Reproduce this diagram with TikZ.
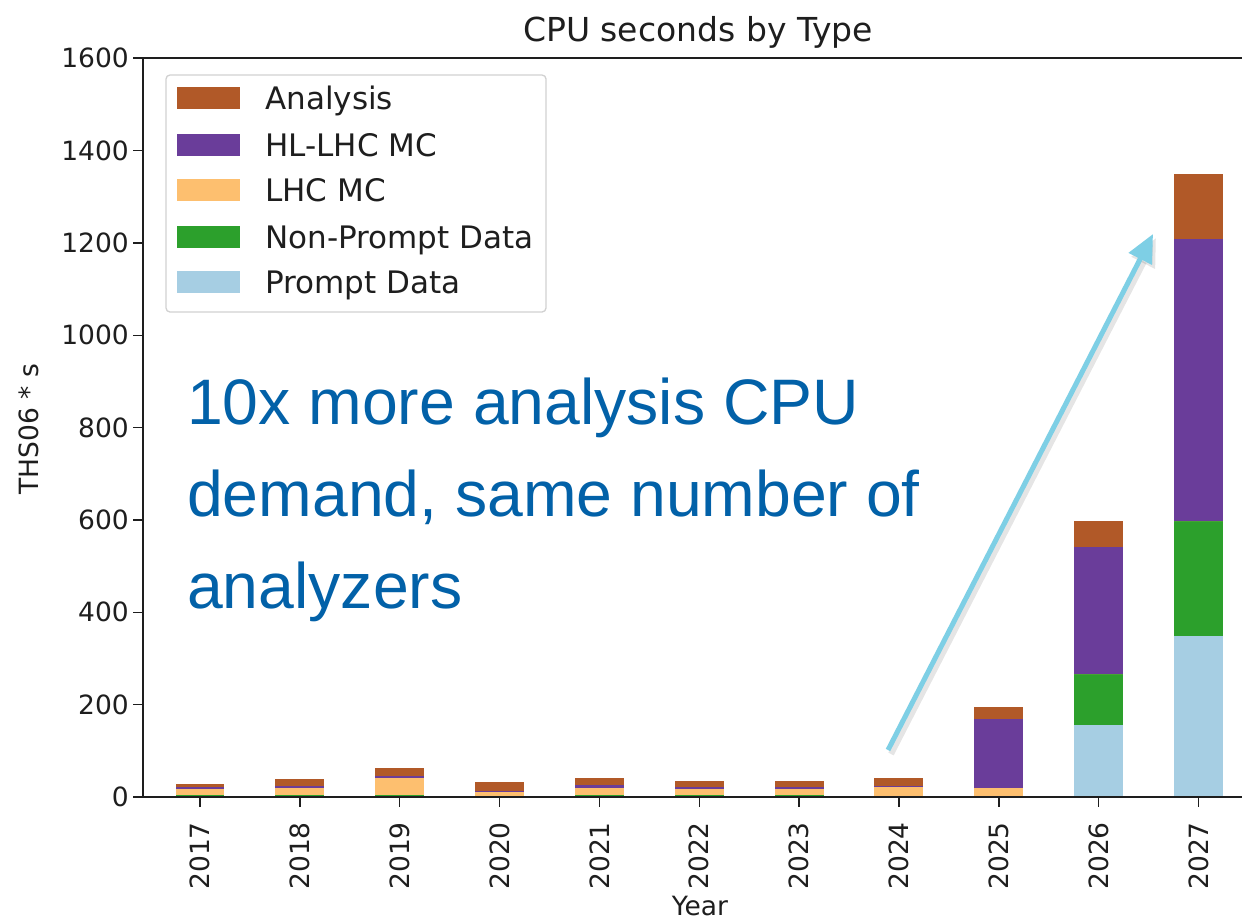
\documentclass[tikz,border=0pt]{standalone}
\usepackage{fontspec}
\setmainfont{DejaVu Sans}
\newfontfamily\annfont{Liberation Sans}
\usetikzlibrary{arrows.meta}
\definecolor{cAn}{HTML}{B15928}
\definecolor{cHL}{HTML}{6A3D9A}
\definecolor{cLHC}{HTML}{FDBF6F}
\definecolor{cNP}{HTML}{2CA02C}
\definecolor{cPD}{HTML}{A6CEE3}
\definecolor{annblue}{RGB}{2,97,168}
\definecolor{arrblue}{RGB}{126,207,229}
\definecolor{axcol}{RGB}{30,30,30}
\newcommand\stackbar[6]{%
  \begin{scope}[shift={(200,797)}, x=99.85pt, y=0.46175pt]
    \pgfmathsetmacro\ya{#2}
    \pgfmathsetmacro\yb{#2+#3}
    \pgfmathsetmacro\yc{#2+#3+#4}
    \pgfmathsetmacro\yd{#2+#3+#4+#5}
    \pgfmathsetmacro\ye{#2+#3+#4+#5+#6}
    \fill[cPD]  (#1-0.245,0)   rectangle (#1+0.245,\ya);
    \fill[cNP]  (#1-0.245,\ya) rectangle (#1+0.245,\yb);
    \fill[cLHC] (#1-0.245,\yb) rectangle (#1+0.245,\yc);
    \fill[cHL]  (#1-0.245,\yc) rectangle (#1+0.245,\yd);
    \fill[cAn]  (#1-0.245,\yd) rectangle (#1+0.245,\ye);
  \end{scope}}
\begin{document}
\begin{tikzpicture}[x=1pt,y=-1pt,
  axisline/.style={draw=axcol, line width=1.8pt},
  tickline/.style={draw=axcol, line width=1.5pt},
  ticklabel/.style={font=\fontsize{26.5}{30}\selectfont, text=axcol, inner sep=0pt},
  titlelabel/.style={font=\fontsize{33}{38}\selectfont, text=axcol, inner sep=0pt},
  legendlabel/.style={font=\fontsize{31}{36}\selectfont, text=axcol, inner sep=0pt, anchor=base west},
  legendframe/.style={draw=black!18, fill=white, line width=1.3pt, rounded corners=4pt},
  annlabel/.style={font=\annfont\fontsize{64.3}{70}\selectfont, text=annblue, inner sep=0pt, anchor=base west},
  arrowline/.style={draw=arrblue, line width=5pt, -{Triangle[length=28pt, width=25pt]}},
  shadowline/.style={draw=black, line width=6pt, opacity=0.10, -{Triangle[length=28pt, width=25pt]}}
]
\useasboundingbox (0,0) rectangle (1242,921);
\fill[white] (0,0) rectangle (1242,921);

% bars: index, prompt, non-prompt, LHC MC, HL-LHC MC, analysis
\stackbar{0}{0}{4}{14}{4}{6}
\stackbar{1}{0}{4}{16}{4}{14}
\stackbar{2}{0}{5}{37}{3}{17}
\stackbar{3}{0}{0}{10}{4}{19}
\stackbar{4}{0}{5}{14}{8}{15}
\stackbar{5}{0}{5}{13}{4}{12}
\stackbar{6}{0}{5}{13}{4}{12}
\stackbar{7}{0}{0}{21}{3}{18}
\stackbar{8}{0}{0}{20}{149}{27}
\stackbar{9}{155}{111}{0}{275}{57}
\stackbar{10}{349}{249}{0}{610}{141}

% axes
\coordinate (tl) at (143,58);
\coordinate (bl) at (143,797);
\coordinate (tr) at (1242,58);
\coordinate (br) at (1242,797);
\draw[axisline] (tr) -- (tl) -- (bl) -- (br);

% y ticks
\foreach \v in {0,200,...,1600} {
  \pgfmathsetmacro\py{797-0.46175*\v}
  \draw[tickline] (133,\py) -- (143,\py);
  \node[ticklabel, anchor=east] (yl\v) at (129,\py) {\v};
}
% x ticks
\foreach \yr [count=\i from 0] in {2017,2018,2019,2020,2021,2022,2023,2024,2025,2026,2027} {
  \pgfmathsetmacro\px{200+99.85*\i}
  \draw[tickline] (\px,797) -- (\px,807);
  \node[ticklabel, rotate=90, anchor=east] (xl\i) at (\px,822) {\yr};
}

% axis labels and title
\node[ticklabel, anchor=base] (xlab) at (700,915) {Year};
\node[ticklabel, rotate=90] (ylab) at (29,429) {THS06 * s};
\node[titlelabel, anchor=base] (title) at (698,41) {CPU seconds by Type};

% legend
\draw[legendframe] (166,75) rectangle (546,312);
\fill[cAn]  (177,87)  rectangle (240,109);
\node[legendlabel] (lgA) at (265,109) {Analysis};
\fill[cHL]  (177,134) rectangle (240,156);
\node[legendlabel] (lgB) at (265,156) {HL-LHC MC};
\fill[cLHC] (177,179) rectangle (240,201);
\node[legendlabel] (lgC) at (265,201) {LHC MC};
\fill[cNP]  (177,226) rectangle (240,248);
\node[legendlabel] (lgD) at (265,248) {Non-Prompt Data};
\fill[cPD]  (177,271) rectangle (240,293);
\node[legendlabel] (lgE) at (265,293) {Prompt Data};

% annotation
\node[annlabel] (ann1) at (187,424) {10x more analysis CPU};
\node[annlabel] (ann2) at (187,516.5) {demand, same number of};
\node[annlabel] (ann3) at (187,608.5) {analyzers};

% arrow
\coordinate (arrS) at (888,750);
\coordinate (arrE) at (1153,234);
\coordinate (shS) at (891,754);
\coordinate (shE) at (1156,238);
\draw[shadowline] (shS) -- (shE);
\draw[arrowline] (arrS) -- (arrE);
\end{tikzpicture}
\end{document}
